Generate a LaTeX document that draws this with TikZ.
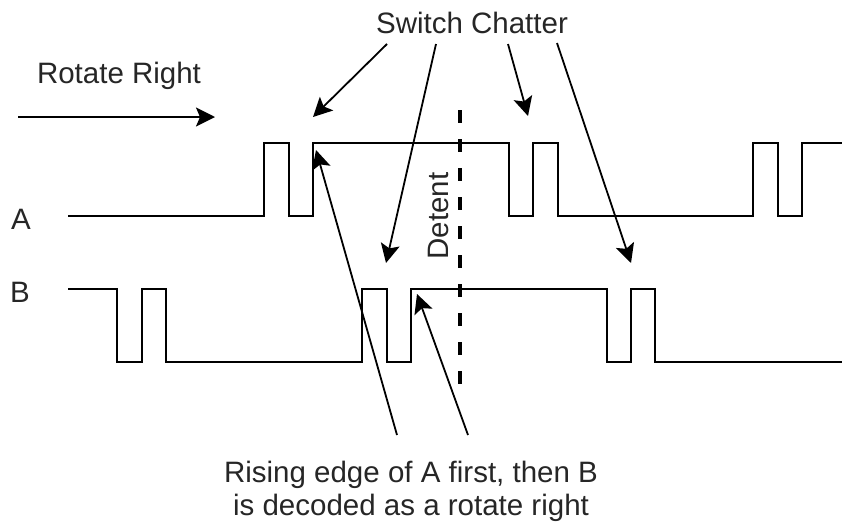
\documentclass[tikz,border=0pt]{standalone}
\usepackage{fontspec}
\setmainfont{Liberation Sans}
\usepackage{tkz-euclide}
\usetikzlibrary{arrows.meta}
\tikzset{wave/.style={line width=2pt,line join=miter},
  arr/.style={line width=1.8pt,-{Stealth[length=19pt,width=19pt,inset=4pt]}},
  lbl/.style={font=\fontsize{29.5}{33}\selectfont,text=black!85,inner sep=0pt}}

\begin{document}
\begin{tikzpicture}[x=1pt,y=-1pt]
\useasboundingbox (0,0) rectangle (842,525);
\tkzDefPoint(18,117){R1}
\tkzDefPoint(215,117){R2}
\tkzDefPoint(387,44){S1}
\tkzDefPoint(313,117){T1}
\tkzDefPoint(436,44){S2}
\tkzDefPoint(386,263){T2}
\tkzDefPoint(508,44){S3}
\tkzDefPoint(528,116){T3}
\tkzDefPoint(557,43){S4}
\tkzDefPoint(631,263){T4}
\tkzDefPoint(397,435){E1}
\tkzDefPoint(316,150){F1}
\tkzDefPoint(468,435){E2}
\tkzDefPoint(417,294){F2}
\tkzDefPoint(460,110){D1}
\tkzDefPoint(460,387){D2}
\node[lbl,anchor=base] (rot) at (119,83) {Rotate Right};
\node[lbl,anchor=base] (chat) at (472,33) {Switch Chatter};
\node[lbl,anchor=base] (la) at (21,229) {A};
\node[lbl,anchor=base] (lb) at (20,302) {B};
\node[lbl,anchor=base,rotate=90] (det) at (448,216) {Detent};
\node[lbl,anchor=base,align=center] (dec) at (411,515)
  {Rising edge of A first, then B\\is decoded as a rotate right};
\draw[wave] (68,216) -- (264,216) -- (264,143) -- (289,143) -- (289,216)
  -- (313,216) -- (313,143) -- (509,143) -- (509,216) -- (533,216)
  -- (533,143) -- (558,143) -- (558,216) -- (753,216) -- (753,143)
  -- (778,143) -- (778,216) -- (802,216) -- (802,143) -- (842,143);
\draw[wave] (68,289) -- (117,289) -- (117,362) -- (142,362) -- (142,289)
  -- (166,289) -- (166,362) -- (362,362) -- (362,289) -- (387,289)
  -- (387,362) -- (411,362) -- (411,289) -- (607,289) -- (607,362)
  -- (631,362) -- (631,289) -- (655,289) -- (655,362) -- (842,362);
\draw[line width=3.5pt,dash pattern=on 13pt off 16pt] (D1) -- (D2);
\draw[arr] (R1) -- (R2);
\draw[arr] (S1) -- (T1);
\draw[arr] (S2) -- (T2);
\draw[arr] (S3) -- (T3);
\draw[arr] (S4) -- (T4);
\draw[arr] (E1) -- (F1);
\draw[arr] (E2) -- (F2);
\end{tikzpicture}
\end{document}
